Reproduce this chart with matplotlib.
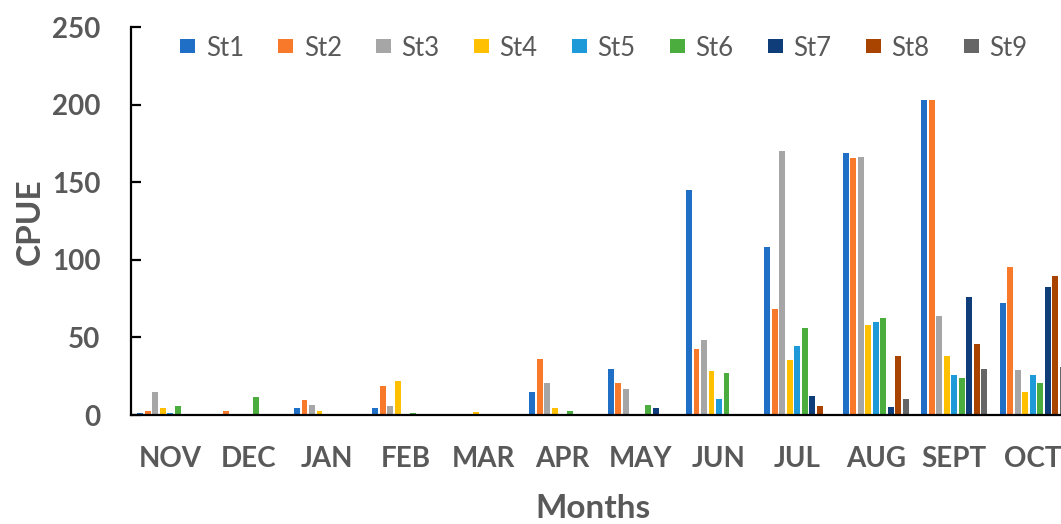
import matplotlib
matplotlib.use("Agg")
import matplotlib.pyplot as plt
import numpy as np

months = ["NOV", "DEC", "JAN", "FEB", "MAR", "APR", "MAY", "JUN", "JUL", "AUG", "SEPT", "OCT"]
stations = ["St1", "St2", "St3", "St4", "St5", "St6", "St7", "St8", "St9"]

st1 = [1.5, 0.5, 4.5, 4.7, 0.5, 14.8, 29.4, 145.2, 108.4, 169.0, 203.0, 72.0]
st2 = [2.5, 2.5, 9.5, 18.9, 0.0, 35.9, 20.6, 42.3, 68.5, 165.5, 203.0, 95.2]
st3 = [14.5, 0.0, 6.3, 5.8, 0.0, 20.6, 17.0, 48.1, 170.3, 166.2, 64.0, 28.8]
st4 = [4.5, 0.3, 2.6, 21.9, 2.0, 4.7, 0.0, 28.3, 35.3, 58.2, 37.8, 14.8]
st5 = [1.5, 0.0, 0.0, 0.0, 0.0, 0.0, 0.3, 10.3, 44.3, 60.1, 25.6, 25.8]
st6 = [5.6, 11.5, 0.0, 1.3, 0.0, 2.6, 6.2, 27.1, 56.0, 62.3, 23.8, 20.4]
st7 = [0.0, 0.0, 0.5, 0.0, 0.0, 0.7, 4.6, 0.0, 12.5, 5.4, 75.8, 82.5]
st8 = [0.0, 0.0, 0.0, 0.0, 0.0, 0.7, 0.0, 0.5, 6.0, 38.1, 45.7, 89.5]
st9 = [0.0, 0.0, 0.0, 0.0, 0.0, 0.5, 0.0, 0.0, 0.0, 10.1, 29.8, 30.9]
series = [st1, st2, st3, st4, st5, st6, st7, st8, st9]

colors = ["#1F6FC6", "#F9792A", "#A6A6A6", "#FFC000", "#1E9AD9",
          "#4CAD3F", "#0E3D79", "#A84300", "#666666"]

txt = "#595959"
plt.rcParams['font.family'] = ['Lato', 'DejaVu Sans']

fig = plt.figure(figsize=(10.61, 5.24), dpi=100)
W, H = 1061, 524
left, right, top, bottom = 131, 131 + 12 * 78.4, 27, 415
ax = fig.add_axes([left / W, 1 - bottom / H, (right - left) / W, (bottom - top) / H])

x = np.arange(len(months))
step = 0.0957
bw = 0.075
for i, (vals, c, name) in enumerate(zip(series, colors, stations)):
    ax.bar(x + (i - 4) * step, vals, width=bw, color=c, label=name, linewidth=0)

ax.set_xlim(-0.5, 11.5)
ax.set_ylim(0, 250)
ax.set_yticks(np.arange(0, 251, 50))
ax.set_xticks(x)
ax.set_xticklabels(months)
for s in ["top", "right"]:
    ax.spines[s].set_visible(False)
for s in ["left", "bottom"]:
    ax.spines[s].set_linewidth(1.6)
    ax.spines[s].set_color("black")
ax.tick_params(axis="y", direction="in", length=7, width=1.6, pad=22,
               labelsize=20, labelcolor=txt)
ax.tick_params(axis="x", length=0, pad=22, labelsize=20, labelcolor=txt)
for lab in ax.get_xticklabels() + ax.get_yticklabels():
    lab.set_fontweight("bold")

fig.text(593 / W, 1 - 509 / H, "Months", ha="center", va="center",
         fontsize=24, fontweight="bold", color=txt)
fig.text(30 / W, 1 - 222 / H, "CPUE", ha="center", va="center", rotation=90,
         fontsize=24, fontweight="bold", color=txt)

leg = fig.legend(loc="center left", bbox_to_anchor=(180 / W, 1 - 48 / H), ncol=9,
                 frameon=False, fontsize=18.5, handlelength=0.6, handleheight=0.45,
                 handletextpad=0.4, columnspacing=1.33, borderaxespad=0, borderpad=0)
for t in leg.get_texts():
    t.set_color(txt)

fig.savefig("out.png", dpi=100)
